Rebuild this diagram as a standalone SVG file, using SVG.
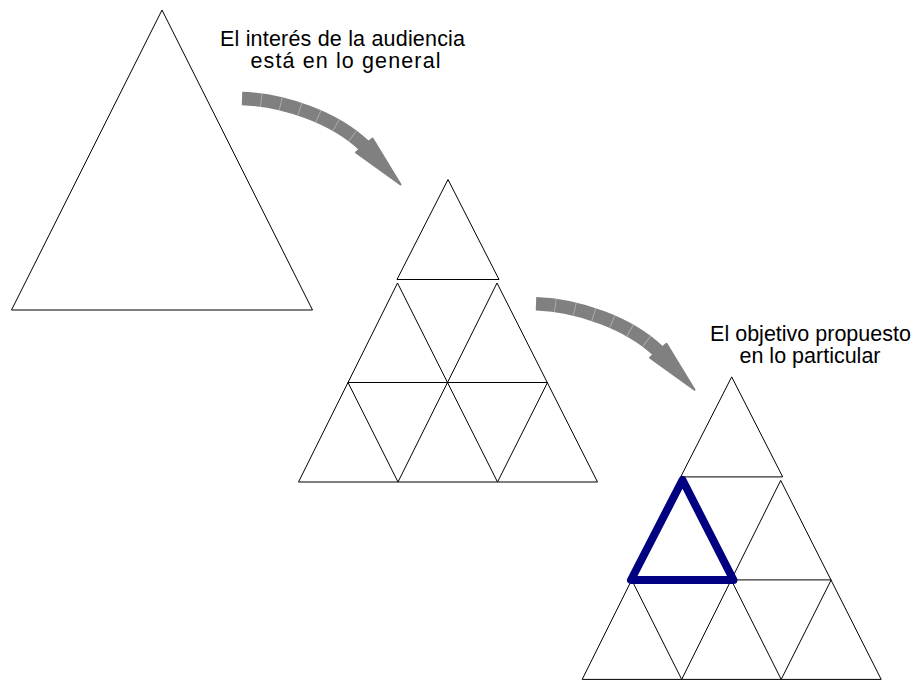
<svg xmlns="http://www.w3.org/2000/svg" xmlns:xlink="http://www.w3.org/1999/xlink" width="921" height="680" viewBox="0 0 921 680">
<style>
  .ln { fill: none; stroke: #000; stroke-width: 1; stroke-linejoin: miter; }
  .lbl { font-family: "Liberation Sans", Arial, sans-serif; font-size: 21.5px; fill: #000; text-anchor: middle; }
  .body { fill: none; stroke: #808080; stroke-width: 13.5; stroke-linecap: butt; }
  .seg { fill: none; stroke: #b4b4b4; stroke-width: 13.5; stroke-dasharray: 0 19 0.8 0; }
  .head { fill: #808080; stroke: #808080; stroke-width: 2; stroke-linejoin: round; }
  .hl { fill: none; stroke: #000080; stroke-width: 8; stroke-linejoin: round; }
</style>
<defs>
  <g id="curvedArrow">
    <path class="body" d="M242,98.5 C285,100 335,118 364.5,146"/>
    <path class="seg" d="M242,98.5 C285,100 335,118 364.5,146"/>
    <polygon class="head" points="356,152.5 372.5,138.5 400.5,184.5"/>
  </g>
</defs>
<rect width="921" height="680" fill="#fff"/>

<g id="big-triangle">
  <polygon class="ln" points="162,10 11.5,310 312.5,310"/>
</g>

<g id="divided-triangle">
  <polygon class="ln" points="448,179.5 397,279.5 499,279.5"/>
  <path class="ln" d="M397.5,283 L298.5,482 M497,283 L597.5,482 M397.5,283 L497.5,482 M497,283 L398,482 M348,382.5 L398,482 M547.5,382.5 L497.5,482 M348,382.5 L547.5,382.5 M298.5,482 L597.5,482"/>
</g>

<g id="focused-triangle">
  <g transform="translate(283.7,197.4)">
    <polygon class="ln" points="448,179.5 397,279.5 499,279.5"/>
    <path class="ln" d="M397.5,283 L298.5,482 M497,283 L597.5,482 M397.5,283 L497.5,482 M497,283 L398,482 M348,382.5 L398,482 M547.5,382.5 L497.5,482 M348,382.5 L547.5,382.5 M298.5,482 L597.5,482"/>
  </g>
  <polygon id="highlight" class="hl" points="682.5,480 631,580 733.5,580"/>
</g>

<g id="arrows">
  <use xlink:href="#curvedArrow"/>
  <use xlink:href="#curvedArrow" transform="translate(294,205.3)"/>
</g>

<g id="label-general">
  <text class="lbl" x="342.5" y="45.5" textLength="245" lengthAdjust="spacing">El interés de la audiencia</text>
  <text class="lbl" x="345.5" y="67.5" textLength="190" lengthAdjust="spacing">está en lo general</text>
</g>

<g id="label-particular">
  <text class="lbl" x="810.5" y="341">El objetivo propuesto</text>
  <text class="lbl" x="810" y="363">en lo particular</text>
</g>
</svg>
